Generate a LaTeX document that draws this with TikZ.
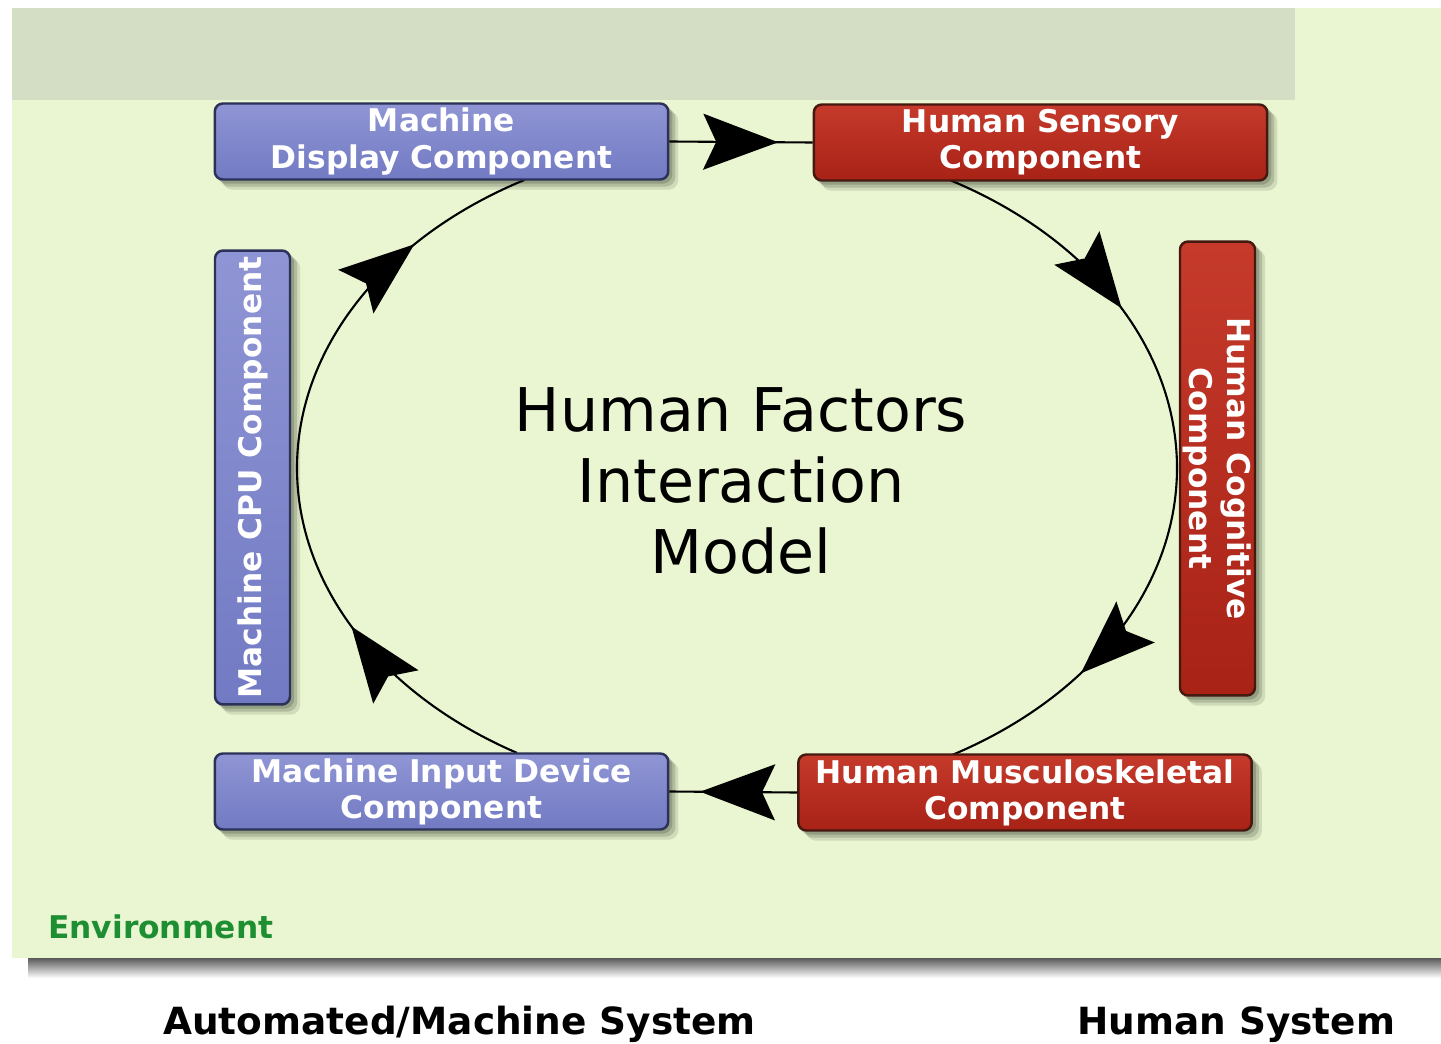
\documentclass[tikz,border=0pt]{standalone}
\usepackage{fontspec}
\setmainfont{DejaVu Sans}
\usetikzlibrary{arrows.meta,decorations.markings}
\definecolor{panelgreen}{HTML}{EAF6D1}
\definecolor{bandgray}{HTML}{D3DEC5}
\definecolor{mtop}{HTML}{8F95D4}
\definecolor{mbot}{HTML}{727AC3}
\definecolor{mborder}{HTML}{2C3158}
\definecolor{htop}{HTML}{C53A2B}
\definecolor{hbot}{HTML}{A82216}
\definecolor{hborder}{HTML}{451810}
\definecolor{envgreen}{HTML}{1E8E33}
\definecolor{shadowc}{HTML}{3A4232}
\pgfdeclarelayer{bg}
\pgfdeclarelayer{shade}
\pgfsetlayers{bg,shade,main}
\newcommand\hfbox{\bfseries\fontsize{17.8}{20.6}\selectfont}
\newcommand\hfvbox{\bfseries\fontsize{17.8}{21.6}\selectfont}
\newcommand\hftitle{\fontsize{34.3}{40.4}\selectfont}
\newcommand\hfenv{\bfseries\fontsize{17.8}{21}\selectfont}
\newcommand\hfsys{\bfseries\fontsize{21.3}{25}\selectfont}
\tikzset{bigtip/.tip={Stealth[length=1.5cm,width=1.12cm,inset=0.26cm]}}
\begin{document}
\begin{tikzpicture}[x=0.02cm,y=-0.02cm,
 comp/.style={rectangle, rounded corners=0.16cm, line width=1.4pt, inner sep=0pt, text=white, align=center},
 mcomp/.style={comp, draw=mborder, top color=mtop, bottom color=mbot},
 hcomp/.style={comp, draw=hborder, top color=htop, bottom color=hbot},
 hbar/.style={minimum width=9.07cm, minimum height=1.52cm, font=\hfbox},
 vbar/.style={minimum width=9.08cm, minimum height=1.50cm, font=\hfvbox},
 flow/.style={draw=black, line width=1.2pt},
 tipat/.style={decoration={markings, mark=at position #1 with {\arrow{bigtip}}}, postaction={decorate}},
 ]
\useasboundingbox (0,0) rectangle (1441,1044);
\begin{pgfonlayer}{bg}
\fill[white] (0,0) rectangle (1441,1044);
\fill[panelgreen] (12,8) rectangle (1441,958);
\fill[bandgray] (12,8) rectangle (1295,100);
\shade[top color=black!65, bottom color=white] (28,958) rectangle (1441,978);
\end{pgfonlayer}

\node[mcomp,hbar] (disp) at (441.5,141.5) {Machine\\Display Component};
\node[hcomp,hbar] (sens) at (1040.5,142.5) {Human Sensory\\Component};
\node[hcomp,vbar,rotate=-90] (cog) at (1217.5,468.5) {Human Cognitive\\Component};
\node[mcomp,vbar,rotate=90] (cpu) at (252.5,477.5) {Machine CPU Component};
\node[mcomp,hbar] (inp) at (441.5,791.5) {Machine Input Device\\Component};
\node[hcomp,hbar] (mus) at (1025,792.5) {Human Musculoskeletal\\Component};

\node[font=\hftitle, align=center] (title) at (741,481) {Human Factors\\Interaction\\Model};
\node[font=\hfenv, text=envgreen, anchor=base west, inner sep=0pt] (env) at (48,938) {Environment};
\node[font=\hfsys, anchor=base west, inner sep=0pt] (auto) at (163,1034) {Automated/Machine System};
\node[font=\hfsys, anchor=base west, inner sep=0pt] (hsys) at (1077,1034) {Human System};

\begin{pgfonlayer}{shade}
\foreach \n in {disp,sens,cog,cpu,inp,mus}{
  \foreach \d/\o in {3/0.25,6/0.2,9/0.15}{
    \fill[shadowc, opacity=\o, rounded corners=0.2cm] ([shift={(\d,\d)}]\n.south west) rectangle ([shift={(\d,\d)}]\n.north east);
  }
}
\coordinate (c) at (737,468);
\path (c) ++(298.9:440 and 329) coordinate (sens-out);
\path (c) ++(0:440 and 329) coordinate (cog-in);
\path (c) ++(120:440 and 329) coordinate (inp-out);
\path (c) ++(180:440 and 329) coordinate (cpu-in);
\draw[flow, tipat=0.558] (sens-out) arc[start angle=298.9, end angle=360, x radius=440, y radius=329];
\draw[flow, tipat=0.604] (cog-in) arc[start angle=0, end angle=60.7, x radius=440, y radius=329];
\draw[flow, tipat=0.553] (inp-out) arc[start angle=120, end angle=180, x radius=440, y radius=329];
\draw[flow, tipat=0.671] (cpu-in) arc[start angle=180, end angle=241.1, x radius=440, y radius=329];
\end{pgfonlayer}

\draw[flow, tipat=0.76] (disp.east) -- (sens.west);
\draw[flow, tipat=0.76] (mus.west) -- (inp.east);
\end{tikzpicture}
\end{document}
